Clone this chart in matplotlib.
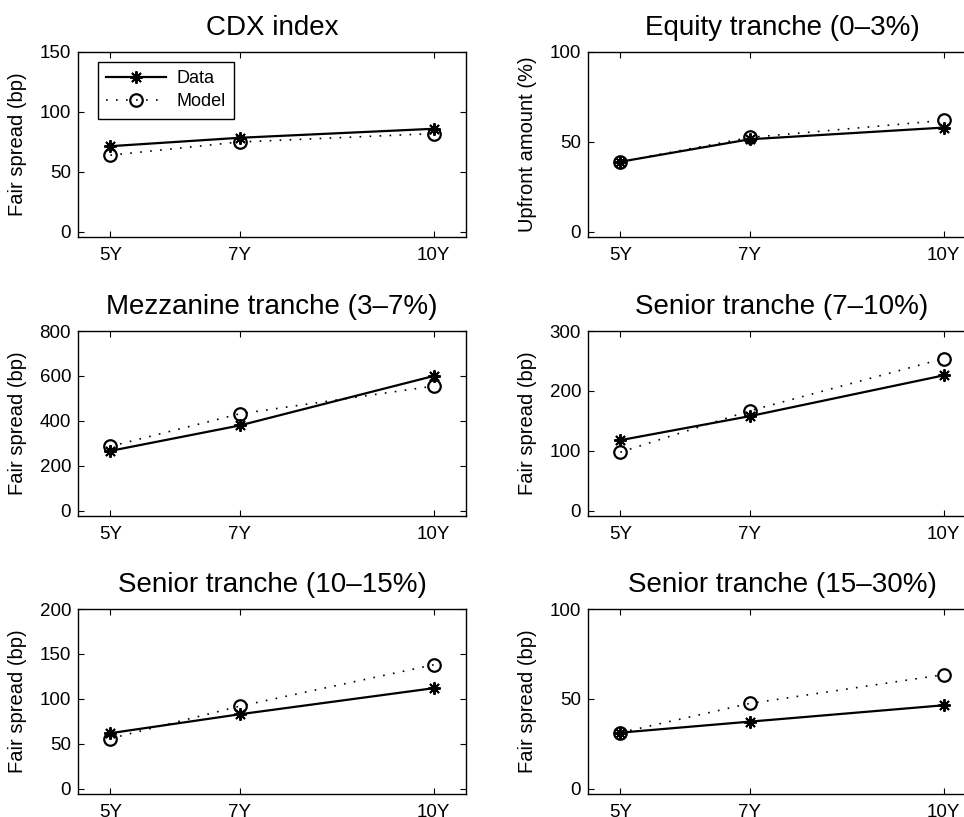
import matplotlib
matplotlib.use("Agg")
import matplotlib.pyplot as plt

plt.rcParams['font.family'] = ['Liberation Sans', 'DejaVu Sans']

maturities = [5, 7, 10]
tick_labels = ["5Y", "7Y", "10Y"]

titles = ["CDX index", "Equity tranche (0\u20133%)", "Mezzanine tranche (3\u20137%)",
          "Senior tranche (7\u201310%)", "Senior tranche (10\u201315%)", "Senior tranche (15\u201330%)"]
ylabels = ["Fair spread (bp)", "Upfront amount (%)", "Fair spread (bp)",
           "Fair spread (bp)", "Fair spread (bp)", "Fair spread (bp)"]
ymax = [150, 100, 800, 300, 200, 100]
ystep = [50, 50, 200, 100, 50, 50]

cdx_data = [71.5, 78.5, 86]
cdx_model = [64, 75, 82]
equity_data = [39, 51.5, 58]
equity_model = [39, 52.5, 62]
mezz_data = [267, 380, 600]
mezz_model = [287, 432, 555]
sen710_data = [118, 158, 226]
sen710_model = [98, 167, 254]
sen1015_data = [62, 83, 112]
sen1015_model = [56, 92, 138]
sen1530_data = [31.3, 37.4, 46.5]
sen1530_model = [31.3, 47.5, 63.5]

data_series = [cdx_data, equity_data, mezz_data, sen710_data, sen1015_data, sen1530_data]
model_series = [cdx_model, equity_model, mezz_model, sen710_model, sen1015_model, sen1530_model]

W, H = 964, 817
fig = plt.figure(figsize=(W / 100, H / 100), dpi=100)

lefts = [78, 588]
tops = [52, 331, 609]
aw, ah = 388, 185

for i in range(6):
	row, col = i // 2, i % 2
	ax = fig.add_axes([lefts[col] / W, 1 - (tops[row] + ah) / H, aw / W, ah / H])
	ax.plot(maturities, data_series[i], color="black", lw=1.6, marker=(8, 2, 0),
			ms=9, mew=1.4, label="Data")
	ax.plot(maturities, model_series[i], color="black", lw=1.2, ls=(0, (1, 5)),
			marker="o", ms=9, mfc="none", mew=1.6, label="Model")
	ax.set_xlim(4.5, 10.5)
	ax.set_ylim(-0.028 * ymax[i], ymax[i])
	ax.set_yticks(range(0, ymax[i] + 1, ystep[i]))
	ax.set_xticks(maturities)
	ax.set_xticklabels(tick_labels)
	ax.tick_params(direction="in", top=True, right=True, length=4, width=0.8, labelsize=13.5)
	ax.tick_params(axis="x", pad=7)
	ax.tick_params(axis="y", pad=5)
	for s in ax.spines.values():
		s.set_linewidth(1.0)
	ax.set_title(titles[i], fontsize=20, pad=12)
	ax.set_ylabel(ylabels[i], fontsize=14.5, labelpad=9)
	if i == 0:
		ax.legend(loc="upper left", fontsize=13, frameon=True, fancybox=False,
				  edgecolor="black", framealpha=1, handlelength=3.3,
				  borderpad=0.45, labelspacing=0.35, handletextpad=0.6,
				  borderaxespad=0, bbox_to_anchor=(0.052, 0.946))

fig.savefig("out.png", dpi=100)
